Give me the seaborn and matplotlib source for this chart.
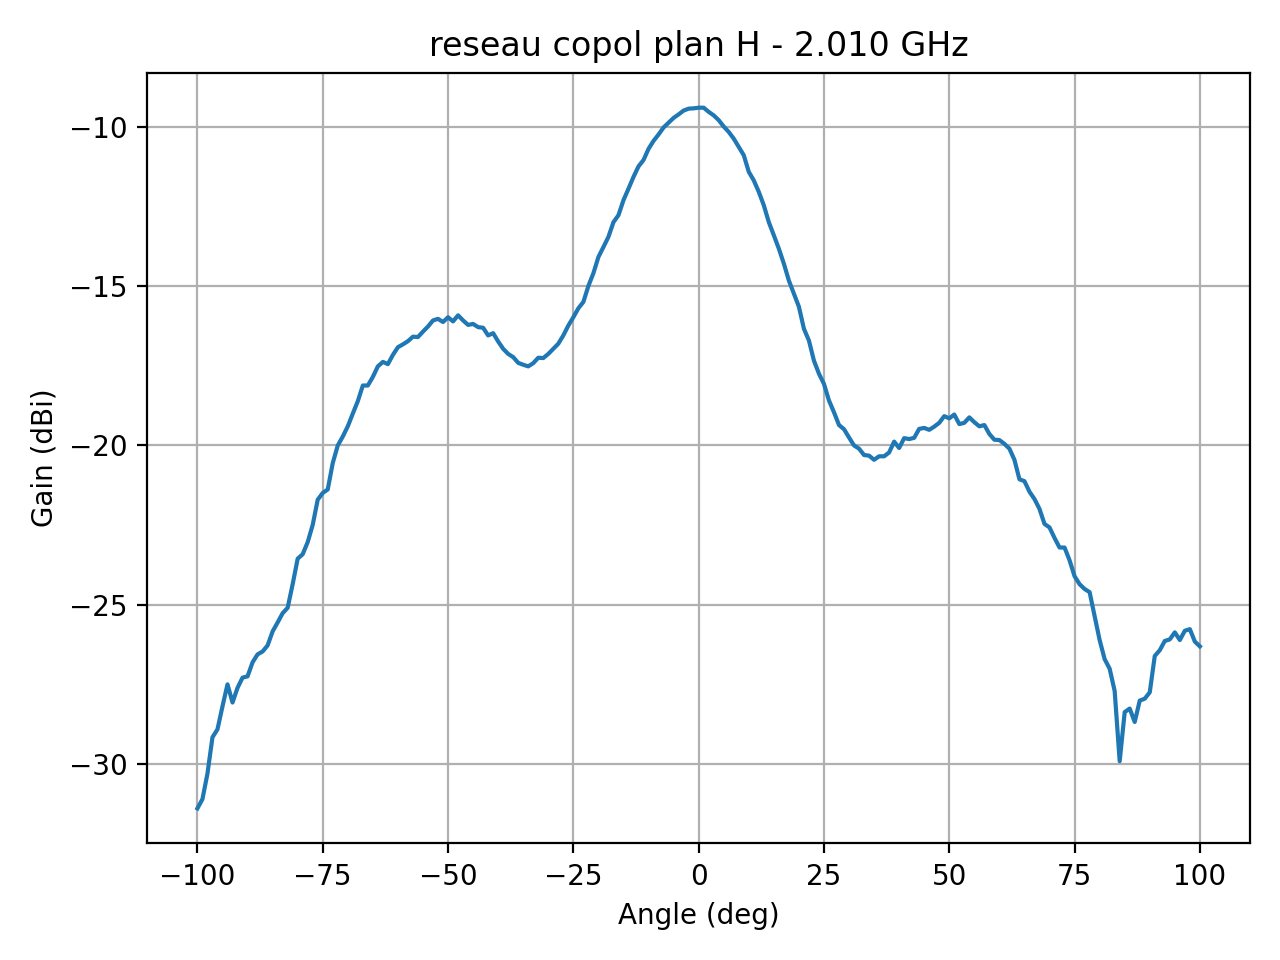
import numpy as np
import pandas as pd
import seaborn as sns
import matplotlib
matplotlib.use("Agg")
import matplotlib.pyplot as plt

title = "reseau copol plan H - 2.010 GHz"

angles = np.arange(-100, 101, 1)

gain = [
    -31.38, -31.09, -30.29, -29.15, -28.90, -28.18, -27.49, -28.06, -27.60, -27.28,
    -27.24, -26.80, -26.55, -26.46, -26.27, -25.83, -25.55, -25.26, -25.09, -24.35,
    -23.55, -23.41, -23.03, -22.49, -21.70, -21.49, -21.38, -20.55, -20.00, -19.72,
    -19.40, -19.00, -18.61, -18.12, -18.12, -17.85, -17.52, -17.38, -17.45, -17.16,
    -16.92, -16.83, -16.73, -16.59, -16.60, -16.43, -16.27, -16.08, -16.03, -16.13,
    -15.98, -16.11, -15.92, -16.08, -16.22, -16.19, -16.29, -16.31, -16.55, -16.48,
    -16.74, -16.97, -17.13, -17.23, -17.41, -17.47, -17.52, -17.42, -17.25, -17.26,
    -17.13, -16.97, -16.81, -16.55, -16.24, -15.98, -15.70, -15.50, -15.00, -14.60,
    -14.09, -13.78, -13.46, -13.00, -12.78, -12.31, -11.95, -11.58, -11.25, -11.05,
    -10.70, -10.45, -10.25, -10.03, -9.88, -9.73, -9.62, -9.50, -9.44, -9.43,
    -9.41, -9.41, -9.54, -9.65, -9.80, -10.00, -10.17, -10.38, -10.64, -10.90,
    -11.42, -11.69, -12.05, -12.47, -13.00, -13.41, -13.83, -14.30, -14.83, -15.24,
    -15.65, -16.34, -16.71, -17.34, -17.75, -18.07, -18.59, -18.96, -19.36, -19.49,
    -19.75, -20.00, -20.10, -20.30, -20.32, -20.45, -20.34, -20.34, -20.22, -19.88,
    -20.08, -19.77, -19.80, -19.76, -19.48, -19.45, -19.51, -19.41, -19.29, -19.08,
    -19.15, -19.03, -19.33, -19.29, -19.12, -19.27, -19.40, -19.36, -19.64, -19.82,
    -19.83, -19.95, -20.10, -20.45, -21.06, -21.12, -21.45, -21.68, -21.99, -22.46,
    -22.57, -22.90, -23.20, -23.20, -23.60, -24.10, -24.35, -24.50, -24.60, -25.35,
    -26.10, -26.70, -27.00, -27.70, -29.90, -28.36, -28.25, -28.67, -28.00, -27.94,
    -27.74, -26.60, -26.42, -26.13, -26.08, -25.86, -26.10, -25.81, -25.76, -26.15,
    -26.30,
]


def main():
    df = pd.DataFrame({"angle": angles, "gain": gain})
    fig, ax = plt.subplots(figsize=(6.4, 4.8), dpi=200)
    sns.lineplot(data=df, x="angle", y="gain", ax=ax, color="#1f77b4", linewidth=1.5)
    ax.grid(True)
    ax.set_title(title)
    ax.set_xlabel("Angle (deg)")
    ax.set_ylabel("Gain (dBi)")
    plt.tight_layout()
    fig.savefig("out.png", dpi=200)


if __name__ == "__main__":
    main()
